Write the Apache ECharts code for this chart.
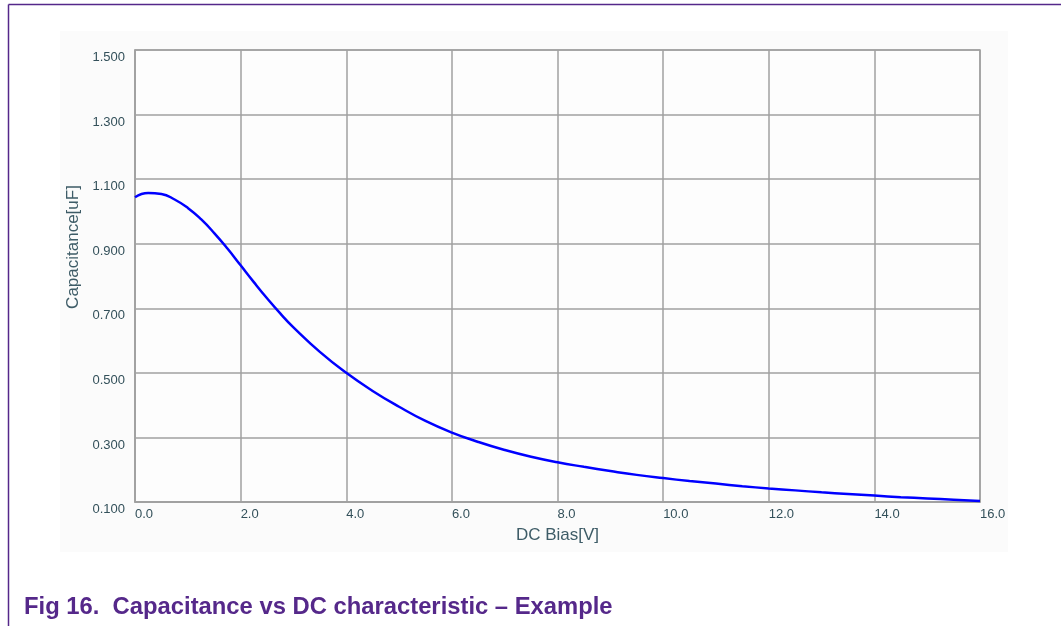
<!DOCTYPE html>
<html>
<head>
<meta charset="utf-8">
<script src="https://cdn.jsdelivr.net/npm/echarts@6/dist/echarts.min.js"></script>
<style>
html,body{margin:0;padding:0;background:#fff;}
#chart{width:1061px;height:626px;}
</style>
</head>
<body>
<div id="chart"></div>
<script>
// DC bias [V]
const biasV = [0, 0.25, 0.5, 0.75, 1.0, 1.25, 1.5, 1.75, 2.0, 2.25, 2.5, 2.75, 3.0, 3.5, 4.0, 4.5, 5.0, 5.5, 6.0, 6.5, 7.0, 7.5, 8.0, 8.5, 9.0, 9.5, 10.0, 10.5, 11.0, 11.5, 12.0, 12.5, 13.0, 13.5, 14.0, 14.5, 15.0, 15.5, 16.0];
// Capacitance [uF]
const capUF = [1.044, 1.057, 1.054, 1.037, 1.011, 0.976, 0.933, 0.885, 0.833, 0.781, 0.731, 0.684, 0.641, 0.565, 0.500, 0.444, 0.395, 0.351, 0.315, 0.286, 0.261, 0.240, 0.223, 0.209, 0.196, 0.184, 0.174, 0.165, 0.157, 0.149, 0.142, 0.136, 0.130, 0.125, 0.120, 0.115, 0.111, 0.107, 0.103];

const xAxisName = 'DC Bias[V]';
const yAxisName = 'Capacitance[uF]';
const captionText = 'Fig 16.  Capacitance vs DC characteristic \u2013 Example';

const chart = echarts.init(document.getElementById('chart'), null, {renderer: 'canvas'});
const labelColor = '#33505a';
const nameColor = '#3e5c67';
const gridColor = '#a0a0a0';
const purple = '#55288a';
const fontFam = '"Liberation Sans", Arial, sans-serif';

chart.setOption({
  backgroundColor: '#ffffff',
  animation: false,
  graphic: [
    {type: 'rect', z: -10, silent: true, shape: {x: 60, y: 31, width: 948, height: 521}, style: {fill: '#fbfbfb'}},
    {type: 'line', silent: true, shape: {x1: 8.5, y1: 4.5, x2: 1061, y2: 4.5}, style: {stroke: purple, lineWidth: 1.5}},
    {type: 'line', silent: true, shape: {x1: 8.5, y1: 4.5, x2: 8.5, y2: 626}, style: {stroke: purple, lineWidth: 1.5}},
    {type: 'text', silent: true, left: 24, top: 595, style: {text: captionText, fill: purple, font: 'bold 23.8px ' + fontFam}}
  ],
  grid: {left: 135, top: 50, right: 81, bottom: 124, show: true, backgroundColor: '#fdfdfd', borderColor: gridColor, borderWidth: 1.5},
  xAxis: {
    type: 'value', min: 0, max: 16, interval: 2,
    name: xAxisName, nameLocation: 'middle', nameGap: 25,
    nameTextStyle: {color: nameColor, fontSize: 17, fontFamily: fontFam},
    axisLine: {show: true, lineStyle: {color: gridColor, width: 1.5}},
    axisTick: {show: false},
    axisLabel: {color: labelColor, fontSize: 13, fontFamily: fontFam, align: 'left', margin: 6,
      formatter: v => v.toFixed(1)},
    splitLine: {show: true, lineStyle: {color: gridColor, width: 1.5}}
  },
  yAxis: {
    type: 'value', min: 0.1, max: 1.5, interval: 0.2,
    name: yAxisName, nameLocation: 'middle', nameGap: 50, nameRotate: 90,
    nameTextStyle: {color: nameColor, fontSize: 17, fontFamily: fontFam, padding: [0, 0, 0, 58]},
    axisLine: {show: true, lineStyle: {color: gridColor, width: 1.5}},
    axisTick: {show: false},
    axisLabel: {color: labelColor, fontSize: 13, fontFamily: fontFam, margin: 10, verticalAlign: 'top', padding: [1, 0, 0, 0],
      formatter: v => v.toFixed(3)},
    splitLine: {show: true, lineStyle: {color: gridColor, width: 1.5}}
  },
  series: [{
    type: 'line',
    data: biasV.map((x, i) => [x, capUF[i]]),
    smooth: true,
    showSymbol: false,
    lineStyle: {color: '#0000ff', width: 2.5},
    clip: false
  }]
});
</script>
</body>
</html>
